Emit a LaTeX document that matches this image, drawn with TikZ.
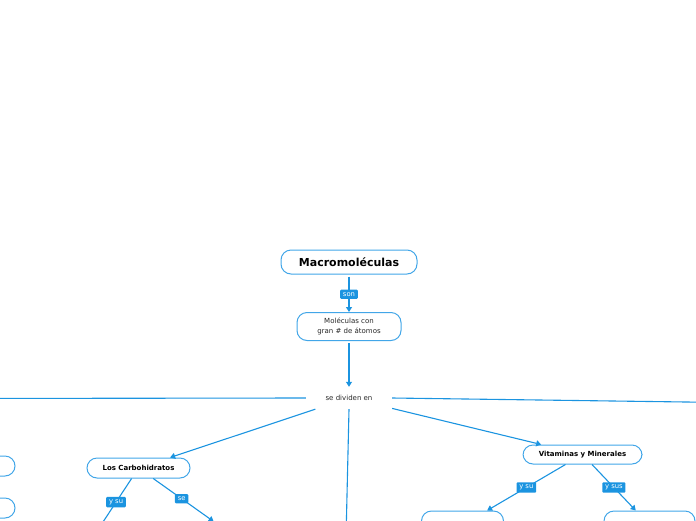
\documentclass[tikz,border=0pt]{standalone}
\usepackage{fontspec}
\setmainfont{DejaVu Sans}
\usepackage{xcolor}
\usetikzlibrary{positioning, arrows.meta}
\definecolor{mapblue}{RGB}{27,148,224}
\definecolor{boxblue}{RGB}{66,166,232}
\definecolor{texgray}{RGB}{40,40,40}

\begin{document}
\begin{tikzpicture}[x=1pt,y=-1pt,
  topic/.style={draw=boxblue, line width=1pt, rounded corners=10pt, fill=white, inner sep=0pt, align=center},
  lab/.style={fill=mapblue, text=white, font=\fontsize{6.8}{8}\selectfont, rounded corners=1pt, inner xsep=2.8pt, inner ysep=2.6pt},
  conn/.style={draw=mapblue, line width=1.1pt},
  arr/.style={conn, -{Triangle[length=5pt,width=6pt]}}]
\useasboundingbox (0,0) rectangle (696,520);
\begin{scope}
\clip (0,0) rectangle (696,520);
% Central topics
\node[topic, minimum width=136pt, minimum height=24pt, font=\bfseries\fontsize{11}{13}\selectfont] (macro) at (349,262) {Macromoléculas};
\node[topic, minimum width=104pt, minimum height=28pt, font=\fontsize{7}{9.5}\selectfont, text=texgray] (molec) at (349,326.5) {Moléculas con\\gran \# de átomos};
\node[minimum width=86pt, minimum height=22pt, inner sep=0pt, font=\fontsize{7}{9}\selectfont, text=texgray] (divid) at (349,398) {se dividen en};
% Branches
\node[topic, minimum width=103pt, minimum height=20pt, font=\bfseries\fontsize{7}{9}\selectfont] (carbo) at (138.5,468) {Los Carbohidratos};
\node[topic, minimum width=119pt, minimum height=19pt, font=\bfseries\fontsize{7}{9}\selectfont] (vitam) at (582.5,454.5) {Vitaminas y Minerales};
% Nodes cut by the frame
\node[topic, minimum width=82pt, minimum height=28pt] (vitizq) at (462.5,525) {};
\node[topic, minimum width=91pt, minimum height=28pt] (vitder) at (649.5,525) {};
\node[topic, minimum width=100pt, minimum height=20pt] (izqa) at (-35,466) {};
\node[topic, minimum width=100pt, minimum height=20pt] (izqb) at (-35,508) {};
\node[topic, minimum width=90pt, minimum height=28pt] (carder) at (234,536) {};
\coordinate (carizq) at (78,560);
\coordinate (lejosizq) at (-60,398.5);
\coordinate (lejosder) at (760,403);
\coordinate (abajo) at (345.5,560);
% Connectors
\draw[arr] (macro.south) ++(0,2) -- node[lab] {son} (molec.north);
\draw[arr] (molec.south) ++(0,2) -- (divid.north);
\draw[conn] (divid.west) -- (lejosizq);
\draw[conn] (divid.east) -- (lejosder);
\draw[conn] (divid.south) -- (abajo);
\draw[arr] (divid) -- (carbo);
\draw[arr] (divid) -- (vitam);
\draw[conn] (carbo) -- node[lab, pos=0.29] {y su} (carizq);
\draw[arr] (carbo) -- node[lab, pos=0.47] {se} (carder);
\draw[arr] (vitam) -- node[lab] {y su} (vitizq);
\draw[arr] (vitam) -- node[lab] {y sus} (vitder);
\end{scope}
\end{tikzpicture}
\end{document}
